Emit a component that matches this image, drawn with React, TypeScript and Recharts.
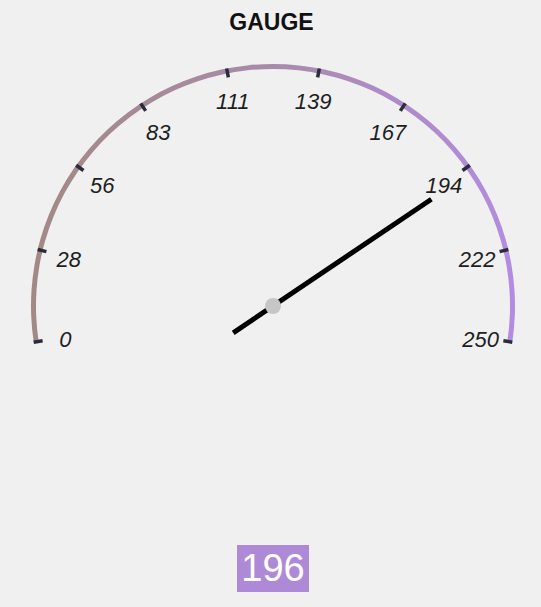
import { RadialBarChart, RadialBar, PolarAngleAxis } from "recharts";

// ─── Data ───
const GAUGE_MIN = 0;
const GAUGE_MAX = 250;
const TICK_VALUES = [0, 28, 56, 83, 111, 139, 167, 194, 222, 250];
const READING = [{ name: "gauge", value: 196 }];

// ─── Layout ───
const W = 541;
const H = 607;
const CX = 273;
const CY = 306;
const START_ANGLE = 188.6;
const END_ANGLE = -8.6;
const RADIAN = Math.PI / 180;

const polar = (cx: number, cy: number, r: number, angle: number) => ({
  x: cx + r * Math.cos(-angle * RADIAN),
  y: cy + r * Math.sin(-angle * RADIAN),
});

// tick mark across the arc + italic label inside
function GaugeTick(props: any) {
  const angle = props.payload.coordinate;
  const a = polar(CX, CY, 233, angle);
  const b = polar(CX, CY, 242, angle);
  const t = polar(CX, CY, 210, angle);
  return (
    <g>
      <line x1={a.x} y1={a.y} x2={b.x} y2={b.y} stroke="#2b2b3b" strokeWidth={3.5} />
      <text
        x={t.x}
        y={t.y + 2}
        textAnchor="middle"
        dominantBaseline="central"
        fill="#1e1e1e"
        fontSize={22}
        fontStyle="italic"
        fontFamily="'Liberation Sans', Arial, sans-serif"
      >
        {props.payload.value}
      </text>
    </g>
  );
}

// needle drawn at the bar's end angle
function Needle(props: any) {
  const { cx, cy, endAngle } = props;
  const tip = polar(cx, cy, 191, endAngle);
  const tail = polar(cx, cy, 48, endAngle + 180);
  return (
    <g>
      <line x1={tail.x} y1={tail.y} x2={tip.x} y2={tip.y} stroke="#000" strokeWidth={5} />
      <circle cx={cx} cy={cy} r={8} fill="#c6c6c6" />
    </g>
  );
}

export default function App() {
  return (
    <div
      style={{
        position: "fixed",
        left: 0,
        top: 0,
        width: W,
        height: H,
        background: "#f0f0f0",
        fontFamily: "'Liberation Sans', Arial, sans-serif",
      }}
    >
      <div
        style={{
          position: "absolute",
          top: 9,
          left: 0,
          width: W,
          textAlign: "center",
          fontWeight: "bold",
          fontSize: 23,
          color: "#111",
          paddingLeft: 1,
        }}
      >
        GAUGE
      </div>

      <div style={{ position: "absolute", left: 0, top: 0 }}>
        <RadialBarChart
          width={W}
          height={H}
          data={READING}
          cx={CX}
          cy={CY}
          innerRadius={237}
          outerRadius={241.5}
          startAngle={START_ANGLE}
          endAngle={END_ANGLE}
          barCategoryGap={0}
          margin={{ top: 0, right: 0, bottom: 0, left: 0 }}
        >
          <defs>
            <linearGradient id="arcGrad" x1="0" y1="0" x2="1" y2="0">
              <stop offset="0%" stopColor="#a38985" />
              <stop offset="50%" stopColor="#aa8aab" />
              <stop offset="100%" stopColor="#b38ce2" />
            </linearGradient>
          </defs>
          <PolarAngleAxis
            type="number"
            domain={[GAUGE_MIN, GAUGE_MAX]}
            ticks={TICK_VALUES}
            tick={<GaugeTick />}
            axisLine={false}
            tickLine={false}
          />
          <RadialBar
            dataKey="value"
            background={{ fill: "url(#arcGrad)" }}
            shape={<Needle />}
            isAnimationActive={false}
          />
        </RadialBarChart>
      </div>

      <div
        style={{
          position: "absolute",
          left: 237,
          top: 545,
          width: 72,
          height: 47,
          background: "#ae8ad6",
          color: "#fff",
          fontSize: 38,
          lineHeight: "47px",
          textAlign: "center",
        }}
      >
        {READING[0].value}
      </div>
    </div>
  );
}
